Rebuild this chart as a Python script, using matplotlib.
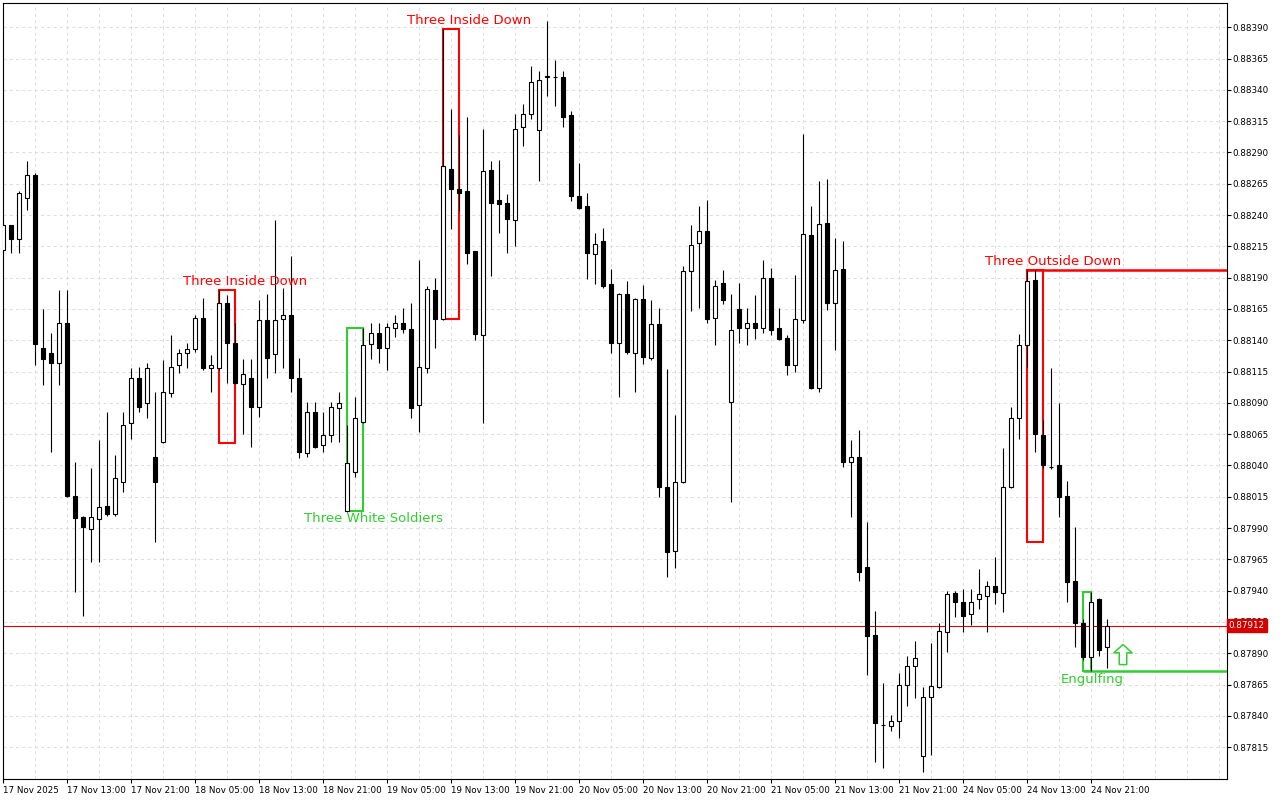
import numpy as np
import matplotlib.pyplot as plt
import matplotlib.transforms as mtransforms
from matplotlib.patches import Rectangle

plt.rcParams['font.family'] = ['DejaVu Sans']

# H1 bars from 17 Nov 05:00 to 24 Nov 23:00
opens = [
    0.88212, 0.88232, 0.88221, 0.88254, 0.88272, 0.88134, 0.88130, 0.88122, 0.88154, 0.88016,
    0.87999, 0.87989, 0.87997, 0.88008, 0.88001, 0.88027, 0.88074, 0.88110, 0.88090, 0.88047,
    0.88059, 0.88098, 0.88120, 0.88130, 0.88133, 0.88158, 0.88118, 0.88118, 0.88170, 0.88138,
    0.88105, 0.88110, 0.88087, 0.88156, 0.88129, 0.88157, 0.88160, 0.88110, 0.88050, 0.88083,
    0.88056, 0.88064, 0.88086, 0.88004, 0.88035, 0.88075, 0.88137, 0.88146, 0.88134, 0.88150,
    0.88154, 0.88149, 0.88088, 0.88118, 0.88180, 0.88157, 0.88277, 0.88261, 0.88259, 0.88211,
    0.88144, 0.88276, 0.88252, 0.88250, 0.88236, 0.88310, 0.88321, 0.88308, 0.88350, 0.88350,
    0.88350, 0.88320, 0.88255, 0.88247, 0.88209, 0.88219, 0.88185, 0.88138, 0.88177, 0.88130,
    0.88173, 0.88126, 0.88153, 0.88023, 0.87972, 0.88027, 0.88195, 0.88218, 0.88227, 0.88158,
    0.88186, 0.88091, 0.88165, 0.88150, 0.88154, 0.88150, 0.88190, 0.88150, 0.88142, 0.88120,
    0.88156, 0.88224, 0.88102, 0.88234, 0.88170, 0.88197, 0.88043, 0.88047, 0.87959, 0.87905,
    0.87833, 0.87832, 0.87836, 0.87865, 0.87880, 0.87808, 0.87855, 0.87863, 0.87907, 0.87938,
    0.87931, 0.87921, 0.87933, 0.87936, 0.87944, 0.87938, 0.88023, 0.88078, 0.88136, 0.88188,
    0.88064, 0.88039, 0.88040, 0.88016, 0.87948, 0.87914, 0.87887, 0.87933, 0.87895,
]
highs = [
    0.88234, 0.88232, 0.88259, 0.88283, 0.88274, 0.88165, 0.88146, 0.88180, 0.88180, 0.88043,
    0.88000, 0.88038, 0.88060, 0.88083, 0.88048, 0.88083, 0.88118, 0.88119, 0.88122, 0.88099,
    0.88124, 0.88144, 0.88133, 0.88138, 0.88160, 0.88174, 0.88128, 0.88180, 0.88176, 0.88154,
    0.88125, 0.88125, 0.88172, 0.88177, 0.88236, 0.88182, 0.88207, 0.88126, 0.88091, 0.88091,
    0.88083, 0.88091, 0.88099, 0.88072, 0.88095, 0.88150, 0.88154, 0.88154, 0.88154, 0.88160,
    0.88166, 0.88170, 0.88204, 0.88183, 0.88190, 0.88389, 0.88325, 0.88304, 0.88318, 0.88211,
    0.88309, 0.88283, 0.88284, 0.88257, 0.88321, 0.88329, 0.88359, 0.88355, 0.88395, 0.88364,
    0.88355, 0.88323, 0.88282, 0.88258, 0.88226, 0.88230, 0.88197, 0.88178, 0.88187, 0.88174,
    0.88184, 0.88172, 0.88166, 0.88117, 0.88080, 0.88199, 0.88232, 0.88247, 0.88252, 0.88188,
    0.88196, 0.88177, 0.88186, 0.88166, 0.88176, 0.88204, 0.88198, 0.88166, 0.88144, 0.88192,
    0.88305, 0.88247, 0.88267, 0.88269, 0.88222, 0.88219, 0.88060, 0.88068, 0.87995, 0.87924,
    0.87866, 0.87841, 0.87874, 0.87888, 0.87900, 0.87863, 0.87898, 0.87914, 0.87940, 0.87940,
    0.87941, 0.87941, 0.87957, 0.87948, 0.87967, 0.88054, 0.88087, 0.88145, 0.88196, 0.88196,
    0.88076, 0.88118, 0.88090, 0.88028, 0.87991, 0.87917, 0.87939, 0.87934, 0.87917,
]
lows = [
    0.88210, 0.88210, 0.88210, 0.88244, 0.88120, 0.88104, 0.88051, 0.88104, 0.88015, 0.87939,
    0.87920, 0.87963, 0.87963, 0.88000, 0.88000, 0.88019, 0.88061, 0.88083, 0.88078, 0.87979,
    0.88058, 0.88095, 0.88114, 0.88118, 0.88131, 0.88116, 0.88099, 0.88116, 0.88106, 0.88105,
    0.88065, 0.88055, 0.88079, 0.88110, 0.88114, 0.88118, 0.88099, 0.88046, 0.88047, 0.88054,
    0.88051, 0.88059, 0.88059, 0.88003, 0.88031, 0.88074, 0.88125, 0.88122, 0.88116, 0.88143,
    0.88146, 0.88078, 0.88067, 0.88114, 0.88134, 0.88156, 0.88229, 0.88243, 0.88201, 0.88140,
    0.88074, 0.88191, 0.88226, 0.88210, 0.88215, 0.88295, 0.88317, 0.88267, 0.88335, 0.88327,
    0.88310, 0.88251, 0.88245, 0.88189, 0.88185, 0.88182, 0.88130, 0.88095, 0.88129, 0.88099,
    0.88121, 0.88124, 0.88015, 0.87951, 0.87958, 0.88026, 0.88163, 0.88166, 0.88154, 0.88136,
    0.88169, 0.88011, 0.88138, 0.88136, 0.88141, 0.88146, 0.88144, 0.88140, 0.88112, 0.88115,
    0.88154, 0.88101, 0.88099, 0.88164, 0.88132, 0.88039, 0.87999, 0.87948, 0.87873, 0.87803,
    0.87798, 0.87828, 0.87822, 0.87848, 0.87854, 0.87795, 0.87809, 0.87862, 0.87891, 0.87919,
    0.87907, 0.87913, 0.87925, 0.87907, 0.87929, 0.87923, 0.88022, 0.88061, 0.88119, 0.88051,
    0.88038, 0.88037, 0.87999, 0.87931, 0.87895, 0.87885, 0.87876, 0.87888, 0.87878,
]
closes = [
    0.88232, 0.88221, 0.88258, 0.88272, 0.88137, 0.88125, 0.88122, 0.88154, 0.88016, 0.87998,
    0.87991, 0.87999, 0.88007, 0.88001, 0.88030, 0.88072, 0.88110, 0.88087, 0.88118, 0.88027,
    0.88099, 0.88119, 0.88130, 0.88133, 0.88158, 0.88118, 0.88120, 0.88170, 0.88138, 0.88106,
    0.88113, 0.88087, 0.88156, 0.88126, 0.88156, 0.88160, 0.88110, 0.88051, 0.88083, 0.88055,
    0.88064, 0.88087, 0.88090, 0.88042, 0.88078, 0.88136, 0.88146, 0.88134, 0.88151, 0.88154,
    0.88149, 0.88086, 0.88119, 0.88181, 0.88157, 0.88279, 0.88261, 0.88258, 0.88210, 0.88145,
    0.88275, 0.88250, 0.88249, 0.88237, 0.88309, 0.88321, 0.88346, 0.88348, 0.88351, 0.88350,
    0.88318, 0.88255, 0.88246, 0.88210, 0.88217, 0.88183, 0.88138, 0.88177, 0.88131, 0.88173,
    0.88127, 0.88153, 0.88023, 0.87971, 0.88027, 0.88195, 0.88216, 0.88227, 0.88157, 0.88183,
    0.88172, 0.88148, 0.88150, 0.88154, 0.88150, 0.88190, 0.88148, 0.88141, 0.88120, 0.88157,
    0.88225, 0.88102, 0.88233, 0.88170, 0.88196, 0.88043, 0.88047, 0.87955, 0.87904, 0.87834,
    0.87833, 0.87836, 0.87865, 0.87880, 0.87886, 0.87855, 0.87864, 0.87908, 0.87937, 0.87931,
    0.87920, 0.87931, 0.87937, 0.87944, 0.87939, 0.88023, 0.88078, 0.88136, 0.88187, 0.88065,
    0.88040, 0.88039, 0.88015, 0.87947, 0.87914, 0.87887, 0.87931, 0.87893, 0.87912,
]

time_labels = [
    "17 Nov 2025", "17 Nov 13:00", "17 Nov 21:00", "18 Nov 05:00", "18 Nov 13:00",
    "18 Nov 21:00", "19 Nov 05:00", "19 Nov 13:00", "19 Nov 21:00", "20 Nov 05:00",
    "20 Nov 13:00", "20 Nov 21:00", "21 Nov 05:00", "21 Nov 13:00", "21 Nov 21:00",
    "24 Nov 05:00", "24 Nov 13:00", "24 Nov 21:00",
]
price_ticks = [0.87815 + 0.00025 * i for i in range(24)]
last_price = 0.87912

# detected patterns: name, first bar, last bar, box high, box low, bullish?, extend level
pattern_names = ["Three Inside Down", "Three White Soldiers", "Three Inside Down",
                 "Three Outside Down", "Engulfing"]
pattern_first = [27, 43, 55, 128, 135]
pattern_last = [29, 45, 57, 130, 136]
pattern_high = [0.88180, 0.88150, 0.88389, 0.88196, 0.87939]
pattern_low = [0.88058, 0.88004, 0.88157, 0.87979, 0.87876]
pattern_bull = [False, True, False, False, True]
pattern_extend = [False, False, False, True, True]
label_bar = [30.3, 46.3, 58.3, 131.2, 136.2]

signal_bar = 140.0
signal_low, signal_high = 0.87881, 0.87897

RED = "#ff0000"
GREEN = "#32cd32"

fig = plt.figure(figsize=(12.8, 8), dpi=100)
ax = fig.add_axes([3 / 1280, 21 / 800, 1224 / 1280, 776 / 800])
ax.set_xlim(0.0875, 153.0)
ax.set_ylim(0.877896, 0.884094)

# candles
bars = np.arange(len(opens))
ax.vlines(bars, lows, highs, color="black", linewidth=0.8, zorder=3)
for i in bars:
    o, c = opens[i], closes[i]
    ax.add_patch(Rectangle((i - 0.27, min(o, c)), 0.54, abs(c - o),
                           facecolor="white" if c >= o else "black",
                           edgecolor="black", linewidth=0.8, zorder=4))

# pattern boxes and labels
for name, a, b, hi, lo, bull, ext, lx in zip(pattern_names, pattern_first, pattern_last,
                                               pattern_high, pattern_low, pattern_bull,
                                               pattern_extend, label_bar):
    col = GREEN if bull else RED
    ax.add_patch(Rectangle((a, lo), b - a, hi - lo, fill=False, edgecolor=col,
                           linewidth=1.5, zorder=2))
    if ext:
        lvl = lo if bull else hi
        ax.plot([a, 153.0], [lvl, lvl], color=col, linewidth=1.8, zorder=2,
                solid_capstyle="butt")
    ax.annotate(name, xy=(lx, lo if bull else hi), xytext=(0, -6 if bull else 6),
                textcoords="offset points", ha="center", va="center",
                fontsize=9.5, color=col, zorder=5)

ax.annotate("", xy=(signal_bar, signal_high), xytext=(signal_bar, signal_low),
            arrowprops=dict(arrowstyle="simple,head_length=0.5,head_width=1.1,tail_width=0.45",
                            mutation_scale=12, fc="white", ec=GREEN, lw=1.1,
                            shrinkA=0, shrinkB=0), zorder=5)

# current price line and tag
ax.axhline(last_price, color="#e00000", linewidth=0.8, zorder=2.5)
trans = mtransforms.blended_transform_factory(ax.transAxes, ax.transData)
ax.text(1.0014, last_price, f"{last_price:.5f}", transform=trans, ha="left", va="center",
        color="white", fontsize=6.3, clip_on=False, zorder=6,
        bbox=dict(boxstyle="square,pad=0.25", fc="#d40000", ec="#d40000"))

# axes, ticks, grid
ax.set_xticks(np.arange(0, len(opens), 8))
ax.set_xticklabels(time_labels, ha="left")
ax.set_xticks(np.arange(0, 154, 4), minor=True)
ax.set_yticks(price_ticks)
ax.set_yticklabels([f"{p:.5f}" for p in price_ticks])
ax.yaxis.tick_right()
ax.set_axisbelow(True)
ax.grid(True, which="both", color="#dedede", linestyle=(0, (3, 3)), linewidth=0.75)
ax.tick_params(axis="x", which="major", length=3, width=0.8, pad=2, labelsize=6.3)
ax.tick_params(axis="x", which="minor", length=0)
ax.tick_params(axis="y", length=3, width=0.8, pad=1, labelsize=6.3)
for s in ax.spines.values():
    s.set_color("black")
    s.set_linewidth(0.8)

fig.savefig("out.png", dpi=100, facecolor="white")
